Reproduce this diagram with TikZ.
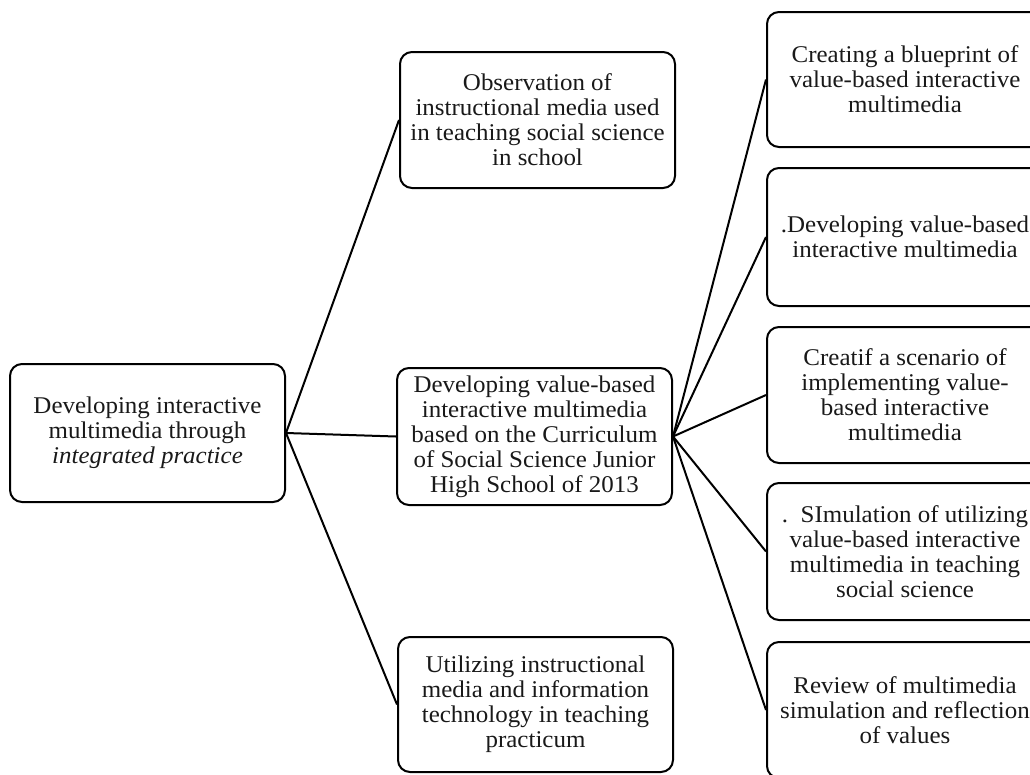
\documentclass[tikz,border=0pt]{standalone}
\usepackage{fontspec}
\setmainfont{Liberation Serif}[FakeStretch=1.04]
\begin{document}
\begin{tikzpicture}[x=1pt,y=-1pt,
  box/.style={draw=black, line width=2pt, rounded corners=12pt, fill=white,
    align=center, inner sep=2pt, minimum width=275pt, minimum height=136pt,
    font=\fontsize{24}{25}\selectfont, text=black!90},
  link/.style={line width=2pt, draw=black}]
\useasboundingbox (0,0) rectangle (1030,774);
\clip (0,0) rectangle (1030,774);
\node[box, minimum height=138pt] (L) at (147.5,433) {Developing interactive\\ multimedia through\\ \textit{integrated practice}};
\node[box] (M1) at (537.5,120) {Observation of\\ instructional media used\\ in teaching social science\\ in school};
\node[box, minimum height=137pt] (M2) at (534.5,436.5) {Developing value-based\\ interactive multimedia\\ based on the Curriculum\\ of Social Science Junior\\ High School of 2013};
\node[box, minimum height=135pt] (M3) at (535.5,704.5) {Utilizing instructional\\ media and information\\ technology in teaching\\ practicum};
\node[box, minimum width=276pt, minimum height=135pt] (R1) at (905,79.5) {Creating a blueprint of\\ value-based interactive\\ multimedia};
\node[box, minimum width=276pt, minimum height=138pt] (R2) at (905,237) {.Developing value-based\\ interactive multimedia};
\node[box, minimum width=276pt] (R3) at (905,395) {Creatif a scenario of\\ implementing value-\\ based interactive\\ multimedia};
\node[box, minimum width=276pt, minimum height=137pt] (R4) at (905,551.5) {.\ \ SImulation of utilizing\\ value-based interactive\\ multimedia in teaching\\ social science};
\node[box, minimum width=276pt] (R5) at (905,710) {Review of multimedia\\ simulation and reflection\\ of values};
\draw[link] (L.east) -- (M1.west);
\draw[link] (L.east) -- (M2.west);
\draw[link] (L.east) -- (M3.west);
\foreach \r in {R1,R2,R3,R4,R5} \draw[link] (M2.east) -- (\r.west);
\end{tikzpicture}
\end{document}
